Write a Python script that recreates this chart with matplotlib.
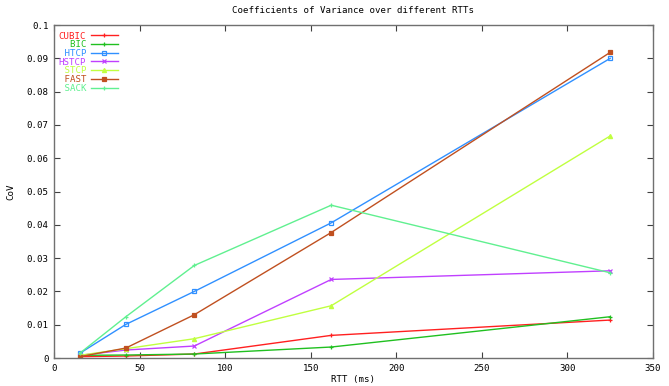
import matplotlib
matplotlib.use("Agg")
import matplotlib.pyplot as plt

rtt = [15, 42, 82, 162, 325]
series_names = ["CUBIC", "BIC", "HTCP", "HSTCP", "STCP", "FAST", "SACK"]
cubic = [0.0004, 0.0006, 0.0012, 0.0068, 0.0114]
bic = [0.0008, 0.0009, 0.0012, 0.0033, 0.0124]
htcp = [0.0014, 0.0101, 0.0200, 0.0406, 0.0900]
hstcp = [0.0008, 0.0024, 0.0036, 0.0236, 0.0262]
stcp = [0.0008, 0.0028, 0.0058, 0.0157, 0.0667]
fast = [0.0004, 0.0030, 0.0130, 0.0377, 0.0918]
sack = [0.0014, 0.0124, 0.0278, 0.0459, 0.0256]

values = [cubic, bic, htcp, hstcp, stcp, fast, sack]
colors = ["#ff2020", "#20c020", "#3090ff", "#c040ff", "#c0ff40", "#c05020", "#60f090"]
markers = ["+", "+", "s", "x", "^", "s", "+"]
mfc = ["#ff2020", "#20c020", "none", "#c040ff", "#c0ff40", "#c05020", "#60f090"]

fig = plt.figure(figsize=(6.69, 3.86), dpi=100)
ax = fig.add_axes([0.0807, 0.0725, 0.8953, 0.8625])
font = "DejaVu Sans Mono"
fs = 6.6

width = max(len(n) for n in series_names)
for name, v, c, m, f in zip(series_names, values, colors, markers, mfc):
    ax.plot(rtt, v, color=c, lw=1.0, marker=m, markersize=3, markerfacecolor=f,
            markeredgecolor=c, markeredgewidth=0.9, label=name.rjust(width))

ax.set_xlim(0, 350)
ax.set_ylim(0, 0.1)
ax.set_xticks(range(0, 351, 50))
yt = [i / 100 for i in range(11)]
ax.set_yticks(yt)
ax.set_yticklabels(["0"] + ["%g" % t for t in yt[1:]])
ax.tick_params(direction="in", top=True, right=True, length=4, width=0.8,
               labelsize=fs, colors="#404040", pad=4)
for lab in ax.get_xticklabels() + ax.get_yticklabels():
    lab.set_family(font)
    lab.set_color("black")
for s in ax.spines.values():
    s.set_color("#707070")
    s.set_linewidth(1.0)

ax.set_title("Coefficients of Variance over different RTTs", fontsize=fs, family=font, pad=9)
ax.set_xlabel("RTT (ms)", fontsize=fs, family=font, labelpad=2)
ax.set_ylabel("CoV", fontsize=fs, family=font, labelpad=8)

leg = ax.legend(loc="upper left", bbox_to_anchor=(-0.003, 1.0), frameon=False,
                markerfirst=False, prop={"family": font, "size": fs},
                handlelength=3.0, labelspacing=-0.03, borderaxespad=0.3,
                handletextpad=0.5)
for t, c in zip(leg.get_texts(), colors):
    t.set_color(c)

fig.savefig("out.png", dpi=100)
